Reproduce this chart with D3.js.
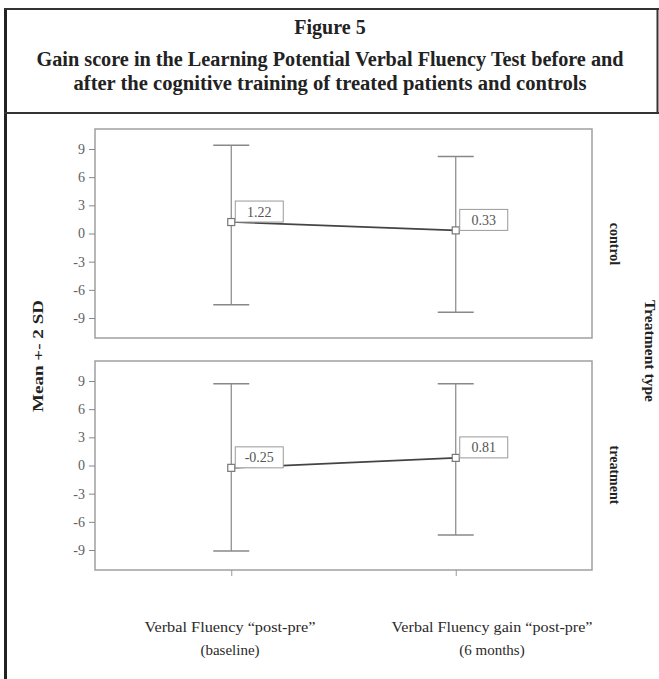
<!DOCTYPE html>
<html>
<head>
<meta charset="utf-8">
<script src="https://cdn.jsdelivr.net/npm/d3@7"></script>
<style>
  html, body { margin: 0; padding: 0; background: #fff; }
  svg { display: block; }
  text { font-family: "Liberation Serif", "Times New Roman", serif; }
  .yaxis text { font-size: 14px; fill: #606060; }
</style>
</head>
<body>
<svg id="chart" width="659" height="679"></svg>
<script>
// ---- data ----
const titleLines = [
  "Figure 5",
  "Gain score in the Learning Potential Verbal Fluency Test before and",
  "after the cognitive training of treated patients and controls"
];
const categories = ["baseline", "6 months"];
const categoryLine1 = ["Verbal Fluency \u201cpost-pre\u201d", "Verbal Fluency gain \u201cpost-pre\u201d"];
const categoryLine2 = ["(baseline)", "(6 months)"];
const groups = ["control", "treatment"];
const meanControl = [1.22, 0.33];
const lowControl = [-7.6, -8.4];
const highControl = [9.4, 8.2];
const meanTreatment = [-0.25, 0.81];
const lowTreatment = [-9.1, -7.4];
const highTreatment = [8.7, 8.7];
const yTicks = [-9, -6, -3, 0, 3, 6, 9];
const yTitle = "Mean +- 2 SD";
const panelTitle = "Treatment type";

const panels = [
  {name: groups[0], mean: meanControl, low: lowControl, high: highControl},
  {name: groups[1], mean: meanTreatment, low: lowTreatment, high: highTreatment}
];

// ---- layout ----
const svg = d3.select("#chart");
const W = 659, H = 679;
const plotL = 95, plotR = 592;
const panelTops = [129, 361];
const panelH = 209;

// outer figure frame
svg.append("line").attr("x1", 5.5).attr("x2", 5.5).attr("y1", 8).attr("y2", H)
  .attr("stroke", "#222").attr("stroke-width", 3);
svg.append("line").attr("x1", 4).attr("x2", W).attr("y1", 9).attr("y2", 9)
  .attr("stroke", "#333").attr("stroke-width", 2);
svg.append("line").attr("x1", 4).attr("x2", W).attr("y1", 113).attr("y2", 113)
  .attr("stroke", "#333").attr("stroke-width", 2);
svg.append("line").attr("x1", 657.5).attr("x2", 657.5).attr("y1", 8).attr("y2", 114)
  .attr("stroke", "#333").attr("stroke-width", 2);

// title
const titleY = [34, 66, 90];
const titleW = [null, 587, 513];
titleLines.forEach((t, i) => {
  const tt = svg.append("text").attr("x", 330).attr("y", titleY[i])
    .attr("text-anchor", "middle").attr("font-weight", "bold")
    .attr("font-size", 20).attr("fill", "#222")
    .text(t);
  if (titleW[i]) tt.attr("textLength", titleW[i]).attr("lengthAdjust", "spacingAndGlyphs");
});

// scales
const x = d3.scalePoint().domain(categories).range([plotL, plotR]).padding(0.607);
const fmtVal = v => v.toFixed(2);

panels.forEach((p, pi) => {
  const top = panelTops[pi];
  const y = d3.scaleLinear().domain([-11.13, 11.13]).range([top + panelH, top]);
  const g = svg.append("g");

  // frame
  g.append("rect").attr("x", plotL).attr("y", top).attr("width", plotR - plotL).attr("height", panelH)
    .attr("fill", "none").attr("stroke", "#a0a0a0").attr("stroke-width", 1.5);

  // y axis
  const ax = g.append("g").attr("class", "yaxis").attr("transform", `translate(${plotL},0)`)
    .call(d3.axisLeft(y).tickValues(yTicks).tickSize(6).tickPadding(4).tickFormat(d => String(d)));
  ax.attr("font-size", 14).attr("font-family", "Liberation Serif, serif");
  ax.select(".domain").remove();
  ax.selectAll(".tick line").attr("stroke", "#888");
  ax.selectAll(".tick text").attr("fill", "#606060");

  // error bars
  categories.forEach((c, i) => {
    const cx = x(c);
    g.append("line").attr("x1", cx).attr("x2", cx).attr("y1", y(p.high[i])).attr("y2", y(p.low[i]))
      .attr("stroke", "#888").attr("stroke-width", 1.2);
    [p.high[i], p.low[i]].forEach(v => {
      g.append("line").attr("x1", cx - 18).attr("x2", cx + 18).attr("y1", y(v)).attr("y2", y(v))
        .attr("stroke", "#888").attr("stroke-width", 1.5);
    });
  });

  // mean line
  const line = d3.line().x((d, i) => x(categories[i])).y(d => y(d));
  g.append("path").datum(p.mean).attr("d", line)
    .attr("fill", "none").attr("stroke", "#444").attr("stroke-width", 1.6);

  // markers and labels
  p.mean.forEach((m, i) => {
    const cx = x(categories[i]), cy = y(m);
    g.append("rect").attr("x", cx - 3.5).attr("y", cy - 3.5).attr("width", 7).attr("height", 7)
      .attr("fill", "#fff").attr("stroke", "#777").attr("stroke-width", 1.2);
    g.append("rect").attr("x", cx + 4).attr("y", cy - 21).attr("width", 48).attr("height", 21)
      .attr("fill", "#fff").attr("stroke", "#999").attr("stroke-width", 1);
    g.append("text").attr("x", cx + 28).attr("y", cy - 5.5).attr("text-anchor", "middle")
      .attr("font-size", 14).attr("fill", "#555")
      .text(fmtVal(m));
  });

  // group label at right
  const ly = pi === 0 ? 244 : 475;
  g.append("text").attr("transform", `translate(610,${ly}) rotate(90)`)
    .attr("text-anchor", "middle").attr("font-weight", "bold").attr("font-size", 14)
    .attr("fill", "#222").text(p.name);

  // x axis ticks on bottom panel
  if (pi === panels.length - 1) {
    const xa = g.append("g").attr("transform", `translate(0,${top + panelH})`)
      .call(d3.axisBottom(x).tickSize(6).tickFormat(""));
    xa.select(".domain").remove();
    xa.selectAll(".tick line").attr("stroke", "#999");
  }
});

// x category labels
const labelX = [230, 492];
const l1W = [171, 201];
categories.forEach((c, i) => {
  svg.append("text").attr("x", labelX[i]).attr("y", 632).attr("text-anchor", "middle")
    .attr("font-size", 15).attr("fill", "#2a2a2a")
    .attr("textLength", l1W[i]).attr("lengthAdjust", "spacingAndGlyphs")
    .text(categoryLine1[i]);
  svg.append("text").attr("x", labelX[i]).attr("y", 655).attr("text-anchor", "middle")
    .attr("font-size", 15).attr("fill", "#2a2a2a")
    .text(categoryLine2[i]);
});

// axis titles
svg.append("text").attr("transform", "translate(43,356) rotate(-90)")
  .attr("text-anchor", "middle").attr("font-weight", "bold").attr("font-size", 15)
  .attr("fill", "#222").attr("textLength", 112).attr("lengthAdjust", "spacingAndGlyphs")
  .text(yTitle);
svg.append("text").attr("transform", "translate(645,351) rotate(90)")
  .attr("text-anchor", "middle").attr("font-weight", "bold").attr("font-size", 15)
  .attr("fill", "#222").attr("textLength", 102).attr("lengthAdjust", "spacingAndGlyphs")
  .text(panelTitle);
</script>
</body>
</html>
